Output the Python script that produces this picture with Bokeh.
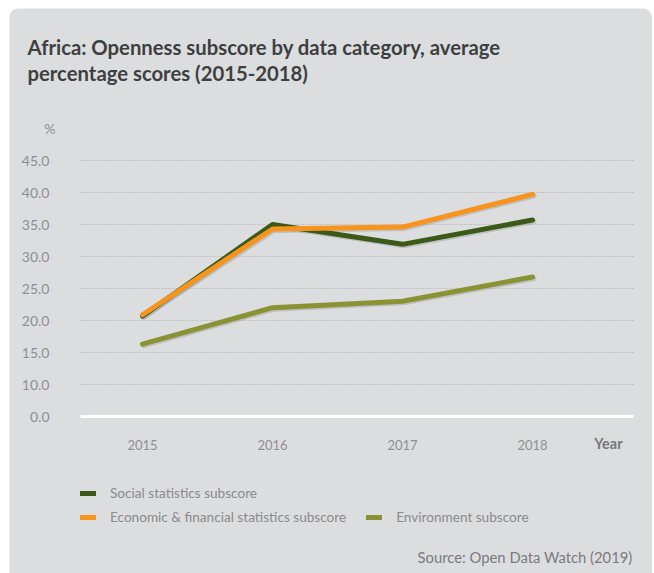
from bokeh.plotting import figure
from bokeh.models import FixedTicker, Label, Legend, LegendItem, Range1d
from bokeh.embed import file_html
from bokeh.resources import INLINE

# ---------------- data ----------------
years = [2015, 2016, 2017, 2018]
social = [20.7, 35.0, 31.9, 35.7]
economic = [20.9, 34.3, 34.6, 39.7]
environment = [16.3, 22.0, 23.0, 26.8]
series_names = ["Social statistics subscore",
                "Economic & financial statistics subscore",
                "Environment subscore"]
y_tick_values = [0, 10, 15, 20, 25, 30, 35, 40, 45]
y_tick_labels = ["0.0", "10.0", "15.0", "20.0", "25.0", "30.0", "35.0", "40.0", "45.0"]
title_lines = ["Africa: Openness subscore by data category, average",
               "percentage scores (2015-2018)"]
y_unit = "%"
x_title = "Year"
source_text = "Source: Open Data Watch (2019)"

# broken axis: 0 is drawn where 5 would be
BREAK = 5
def axis_pos(v):
    return BREAK if v == 0 else v

# ---------------- styling / layout ----------------
BG = "#dcdddf"
C_SOCIAL = "#3b5a18"
C_ECON = "#f7941d"
C_ENV = "#8a9334"
TICK_COL = "#8e8f91"
FONT = "Lato"

OX, OY = 9, 8            # page offset of the panel
W, H = 643, 565
PX_PER_YEAR = 130.0
PX_PER_UNIT = 6.4
X2015_PAGE = 142.0
Y5_PAGE = 416.0
PLOT_L, PLOT_R = 80.0, 633.0   # page x of the plotting area

def dx(xp):   # page x -> data x
    return years[0] + (xp - X2015_PAGE) / PX_PER_YEAR
def dy(yp):   # page y -> data y
    return BREAK + (Y5_PAGE - yp) / PX_PER_UNIT

p = figure(width=W, height=H, output_backend="svg", toolbar_location=None,
           x_range=Range1d(dx(OX), dx(OX + W)), y_range=Range1d(dy(OY + H), dy(OY)),
           min_border=0)
p.margin = (OY, 0, 0, OX)
p.background_fill_color = BG
p.border_fill_color = BG
p.outline_line_color = None
p.styles = {"border-radius": "10px 10px 0 0", "overflow": "hidden"}

# axes (fixed inside the frame so they take no panel space)
ticks = [axis_pos(v) for v in y_tick_values]
p.yaxis.fixed_location = dx(PLOT_L)
p.yaxis.ticker = FixedTicker(ticks=ticks)
p.yaxis.major_label_overrides = {t: l for t, l in zip(ticks, y_tick_labels)}
p.yaxis.axis_line_color = None
p.yaxis.major_tick_line_color = None
p.yaxis.minor_tick_line_color = None
p.yaxis.major_label_standoff = 25
p.yaxis.major_label_text_font = FONT
p.yaxis.major_label_text_font_size = "14px"
p.yaxis.major_label_text_color = TICK_COL

p.xaxis.fixed_location = BREAK
p.xaxis.bounds = (dx(PLOT_L), dx(PLOT_R))
p.xaxis.ticker = FixedTicker(ticks=years)
p.xaxis.axis_line_color = "white"
p.xaxis.axis_line_width = 3
p.xaxis.major_tick_line_color = None
p.xaxis.minor_tick_line_color = None
p.xaxis.major_label_standoff = 17
p.xaxis.major_label_text_font = FONT
p.xaxis.major_label_text_font_size = "13px"
p.xaxis.major_label_text_color = TICK_COL

p.xgrid.grid_line_color = None
grid_ticks = [v for v in y_tick_values if v != 0]
try:
    p.ygrid.cross_bounds = (dx(PLOT_L), dx(PLOT_R))
    p.ygrid.ticker = FixedTicker(ticks=grid_ticks)
    p.ygrid.grid_line_color = "#a8a9ab"
    p.ygrid.grid_line_dash = "1 2"
    p.ygrid.grid_line_width = 1
except AttributeError:
    p.ygrid.grid_line_color = None
    p.segment(x0=[dx(PLOT_L)] * len(grid_ticks), x1=[dx(PLOT_R)] * len(grid_ticks),
              y0=grid_ticks, y1=grid_ticks, line_color="#a8a9ab",
              line_dash="1 2", line_width=1)

# shadows
sdx, sdy = 1.5 / PX_PER_YEAR, -1.5 / PX_PER_UNIT
for ys in (environment, social, economic):
    p.line([x + sdx for x in years], [y + sdy for y in ys], line_color="#9a9b9d",
           line_alpha=0.45, line_width=5, line_cap="round", line_join="round")

r_env = p.line(years, environment, line_color=C_ENV, line_width=5,
               line_cap="round", line_join="round")
r_soc = p.line(years, social, line_color=C_SOCIAL, line_width=5,
               line_cap="round", line_join="round")
r_eco = p.line(years, economic, line_color=C_ECON, line_width=5,
               line_cap="round", line_join="round")

def make_legend(items, row_center_page_y):
    lg = Legend(items=items, orientation="horizontal")
    lg.location = (PLOT_L - OX, (OY + H) - (row_center_page_y + 8))
    lg.background_fill_alpha = 0
    lg.border_line_color = None
    lg.padding = 0
    lg.margin = 0
    lg.spacing = 20
    lg.glyph_width = 16
    lg.glyph_height = 16
    lg.label_height = 16
    lg.label_standoff = 14
    lg.label_text_font = FONT
    lg.label_text_font_size = "13.6px"
    lg.label_text_color = "#8a8b8d"
    lg.label_text_baseline = "middle"
    return lg

p.add_layout(make_legend([LegendItem(label=series_names[0], renderers=[r_soc])], 493), "center")
p.add_layout(make_legend([LegendItem(label=series_names[1], renderers=[r_eco]),
                          LegendItem(label=series_names[2], renderers=[r_env])], 517), "center")

# texts
for i, line in enumerate(title_lines):
    p.add_layout(Label(x=dx(27), y=dy(34 + 26 * i), text=line, text_font=FONT,
                       text_font_style="bold", text_font_size="20.3px", text_color="#3e3f41",
                       text_baseline="top", text_align="left"))
p.add_layout(Label(x=dx(55), y=dy(128), text=y_unit, text_font=FONT,
                   text_font_size="14px", text_color=TICK_COL,
                   text_baseline="middle", text_align="right"))
p.add_layout(Label(x=dx(608), y=dy(443), text=x_title, text_font=FONT,
                   text_font_style="bold", text_font_size="14.5px", text_color="#77787a",
                   text_baseline="middle", text_align="center"))
p.add_layout(Label(x=dx(632), y=dy(556), text=source_text, text_font=FONT,
                   text_font_size="14.8px", text_color="#7a7b7d",
                   text_baseline="middle", text_align="right"))

open("out.html", "w").write(file_html(p, INLINE))
